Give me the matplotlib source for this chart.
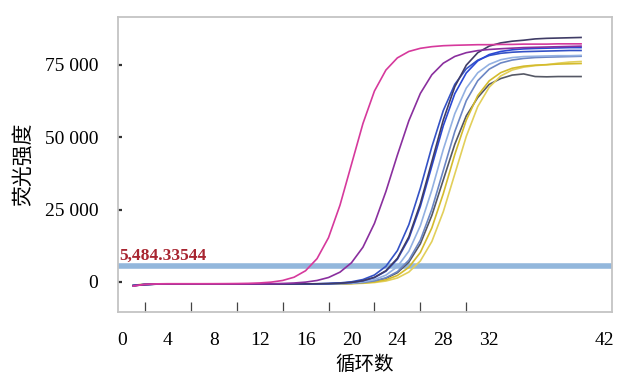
import matplotlib
matplotlib.use("Agg")
import matplotlib.pyplot as plt

# cycle numbers
cycles = list(range(1, 41))

# fluorescence values per well
pink = [-1400, -800, -650, -600, -600, -600, -600, -590, -570, -535,
        -470, -330, -50, 520, 1650, 3880, 8060, 15320, 26540, 40650,
        54760, 65980, 73240, 77450, 79670, 80750, 81320, 81650, 81800, 81900,
        82000, 82000, 82100, 82100, 82200, 82200, 82200, 82300, 82300, 82300]
purple = [-1300, -900, -750, -700, -700, -700, -700, -700, -700, -700,
          -700, -650, -600, -510, -350, -50, 520, 1550, 3400, 6640,
          12020, 20230, 31270, 43860, 55740, 65160, 71610, 75610, 77940, 79240,
          79960, 80350, 80600, 80800, 81000, 81100, 81200, 81300, 81400, 81500]
navy = [-1300, -900, -750, -700, -700, -700, -700, -700, -700, -700,
        -700, -700, -700, -700, -680, -670, -630, -560, -420, -130,
        450, 1610, 3890, 8170, 15610, 27100, 41550, 56000, 67490, 74930,
        79240, 81520, 82620, 83210, 83550, 84000, 84200, 84300, 84400, 84500]
blue = [-1200, -850, -720, -700, -700, -700, -700, -700, -700, -700,
        -700, -700, -700, -700, -680, -660, -610, -515, -320, 65,
        850, 2420, 5410, 10850, 19830, 32390, 46710, 59270, 68290, 73680,
        76660, 78270, 79030, 79400, 79600, 79700, 79800, 79900, 80000, 80000]
blue2 = [-1250, -880, -730, -700, -700, -700, -700, -700, -700, -700,
         -700, -700, -700, -700, -685, -670, -635, -570, -430, -150,
         410, 1525, 3725, 7860, 15030, 26110, 40050, 53990, 65070, 72240,
         76400, 78600, 79660, 80230, 80550, 80700, 80800, 80900, 81000, 81000]
lightblue = [-1200, -850, -720, -700, -700, -700, -700, -700, -700, -700,
             -700, -700, -700, -700, -700, -680, -655, -610, -520, -330,
             50, 825, 2360, 5300, 10640, 19445, 31770, 45830, 58155, 67000,
             72300, 75220, 76800, 77550, 77900, 78000, 78100, 78200, 78200, 78300]
steel = [-1200, -850, -720, -700, -700, -700, -700, -700, -700, -700,
         -700, -700, -700, -700, -700, -685, -670, -640, -575, -440,
         -175, 370, 1445, 3560, 7540, 14450, 25130, 38550, 51970, 62650,
         69560, 73560, 75680, 76700, 77250, 77560, 77700, 77800, 77900, 78000]
yellow = [-1100, -800, -700, -700, -700, -700, -700, -700, -700, -700,
          -700, -700, -700, -700, -700, -700, -680, -660, -615, -525,
          -345, 20, 765, 2240, 5070, 10200, 18680, 30540, 44060, 55920,
          64430, 69520, 72340, 73860, 74580, 74920, 75100, 75300, 75400, 75500]
yellow2 = [-1100, -800, -700, -700, -700, -700, -700, -700, -700, -700,
           -700, -700, -700, -700, -700, -700, -685, -670, -640, -580,
           -450, -190, 335, 1375, 3430, 7280, 13970, 24300, 37300, 50300,
           60630, 67320, 71200, 73250, 74240, 74770, 75070, 75600, 76000, 76200]
darkgray = [-1200, -850, -720, -700, -700, -700, -700, -700, -700, -700,
            -700, -700, -700, -700, -700, -685, -670, -645, -585, -460,
            -220, 280, 1265, 3210, 6860, 13200, 22990, 35300, 47610, 57400,
            63740, 68300, 70300, 71500, 71900, 71000, 70900, 71000, 71000, 71000]

threshold = 5484.33544
threshold_label = "5,484.33544"

xtick_pos = [0, 4, 8, 12, 16, 20, 24, 28, 32, 42]
inner_ticks = list(range(2, 33, 2))
ytick_pos = [0, 25000, 50000, 75000]
ytick_labels = ["0", "25 000", "50 000", "75 000"]

serif = ["Liberation Serif", "DejaVu Serif"]
cjk = ["Noto Sans CJK SC", "DejaVu Sans"]

fig = plt.figure(figsize=(6.17, 3.76), dpi=100)
ax = fig.add_axes([0.191, 0.170, 0.801, 0.785])

# threshold line first so curves sit on top
ax.axhline(threshold, color="#93b7dc", lw=4, zorder=1)

series = [
    (darkgray, "#555865"),
    (yellow2, "#e2cf5a"),
    (yellow, "#d4bb2c"),
    (steel, "#6b86c4"),
    (lightblue, "#93b1e2"),
    (blue, "#3452c6"),
    (blue2, "#2a48d4"),
    (navy, "#403c66"),
    (purple, "#8a2f9e"),
    (pink, "#d6399c"),
]
for vals, col in series:
    ax.plot(cycles, vals, color=col, lw=1.2, zorder=2)

ax.text(-0.25, threshold + 900, threshold_label, color="#a82530",
        fontsize=12.5, fontweight="bold", family=serif, ha="left", va="bottom",
        zorder=3)

ax.set_xlim(-0.35, 42.7)
ax.set_ylim(-10400, 91600)

ax.set_xticks(xtick_pos)
ax.set_xticklabels([str(v) for v in xtick_pos], family=serif, fontsize=14)
ax.set_xticks(inner_ticks, minor=True)
ax.tick_params(axis="x", which="major", length=0, pad=14)
ax.tick_params(axis="x", which="minor", direction="in", length=7,
               width=0.9, color="#444444")

ax.set_yticks(ytick_pos)
ax.set_yticklabels(ytick_labels, family=serif, fontsize=14)
ax.tick_params(axis="y", direction="in", length=3, width=1.6,
               color="#333333", pad=14)

for s in ax.spines.values():
    s.set_color("#c4c4c4")
    s.set_linewidth(1.3)

ax.set_xlabel("循环数", family=cjk, fontsize=14, labelpad=4)
ax.set_ylabel("荧光强度", family=cjk, fontsize=15, labelpad=8)

fig.savefig("out.png", dpi=100)
